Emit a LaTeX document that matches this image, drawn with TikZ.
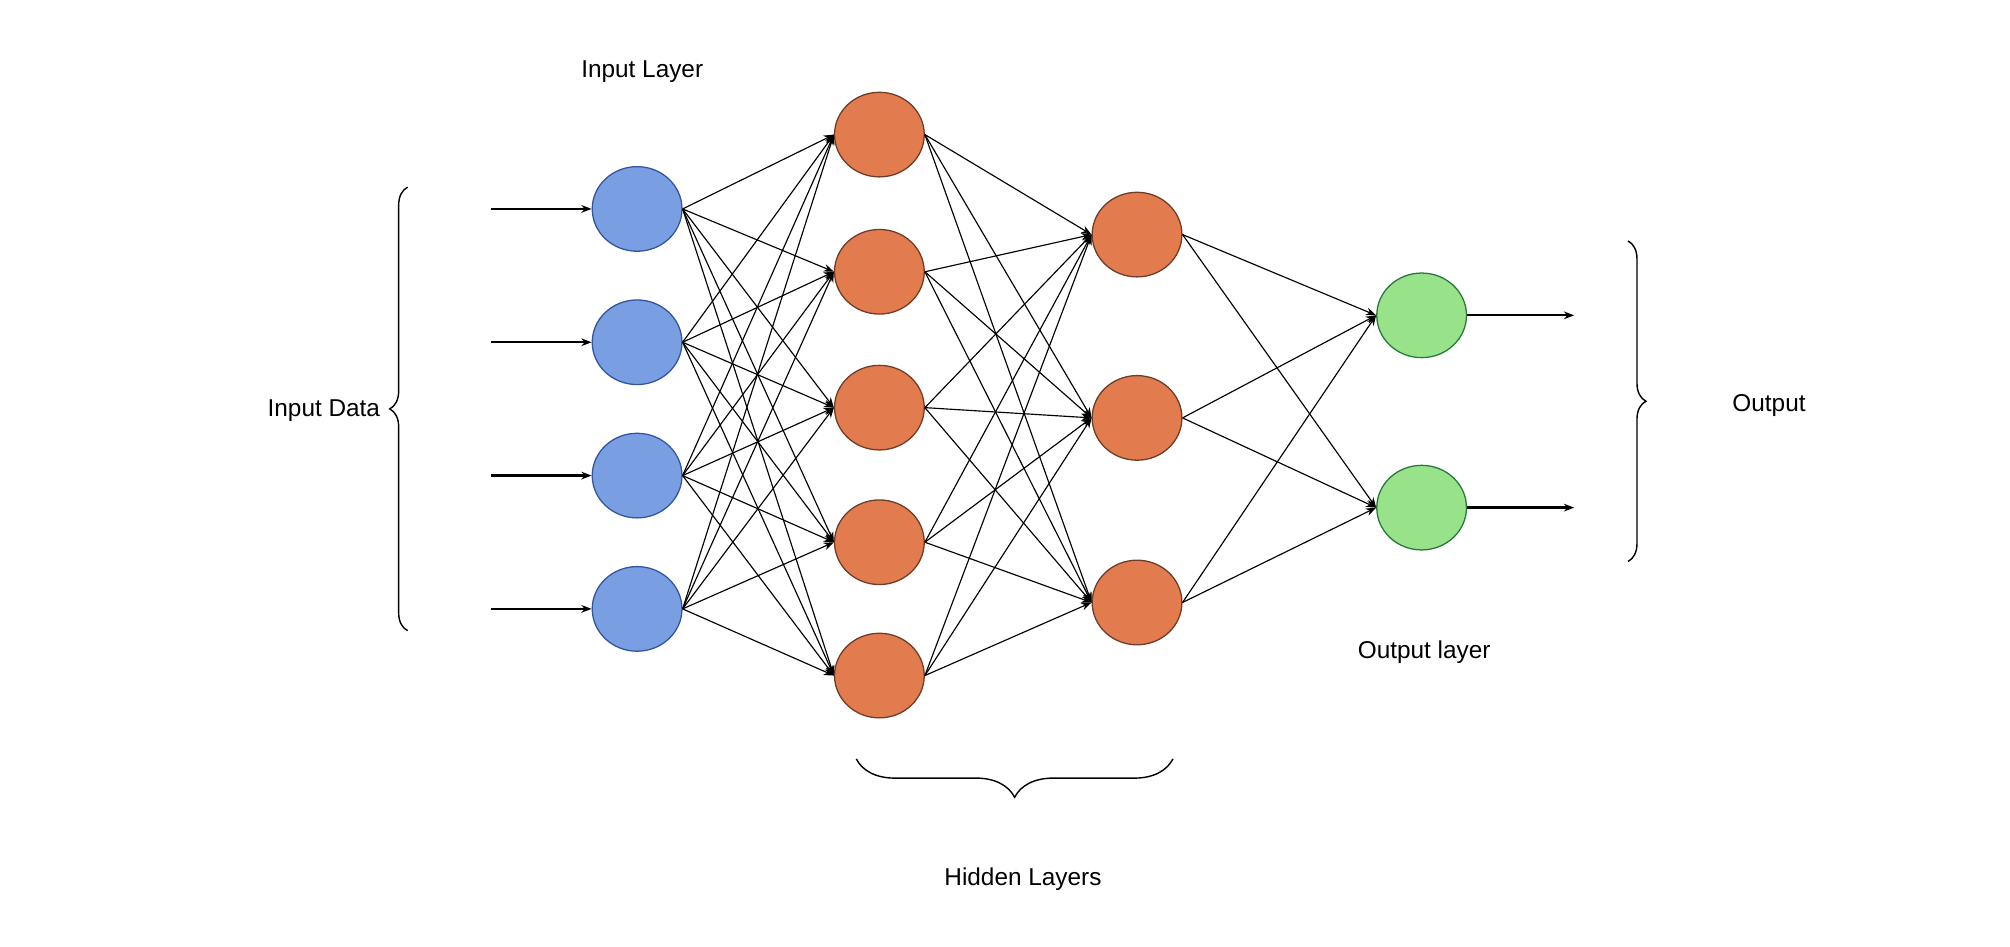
\documentclass[tikz,border=0pt]{standalone}
\usepackage{fontspec}
\setmainfont{Liberation Sans}
\usetikzlibrary{arrows.meta,decorations.pathreplacing,shapes.geometric}
\begin{document}
\begin{tikzpicture}[x=1pt,y=-1pt,
  neuron/.style={ellipse,minimum width=70pt,minimum height=66pt,inner sep=0pt,line width=1pt},
  inp/.style={neuron,fill={rgb,255:red,122;green,158;blue,226},draw={rgb,255:red,50;green,85;blue,160}},
  hid/.style={neuron,fill={rgb,255:red,226;green,123;blue,78},draw={rgb,255:red,110;green,60;blue,40}},
  outn/.style={neuron,fill={rgb,255:red,152;green,226;blue,138},draw={rgb,255:red,40;green,120;blue,60}},
  conn/.style={-{Stealth[length=8pt,width=6pt]},line width=0.9pt},
  io/.style={-{Stealth[length=8pt,width=6pt]},line width=1.8pt},
  brc/.style={decorate,decoration={brace,amplitude=14pt},line width=1.1pt},
  lbl/.style={font=\fontsize{19}{21}\selectfont}]
\useasboundingbox (0,0) rectangle (1568,738);
\foreach \i/\y in {1/163,2/267,3/371,4/475}{\node[inp] (i\i) at (497,\y) {};
  \coordinate (s\i) at (383,\y);}
\foreach \i/\y in {1/105,2/212,3/318,4/423,5/527}{\node[hid] (h\i) at (686,\y) {};}
\foreach \i/\y in {1/183,2/326,3/470}{\node[hid] (g\i) at (887,\y) {};}
\foreach \i/\y in {1/246,2/396}{\node[outn] (o\i) at (1109,\y) {};
  \coordinate (e\i) at (1228,\y);}
\foreach \i in {1,...,4}{\draw[io] (s\i) -- (i\i.west);
  \foreach \j in {1,...,5}{\draw[conn] (i\i.east) -- (h\j.west);}}
\foreach \i in {1,...,5}{\foreach \j in {1,...,3}{\draw[conn] (h\i.east) -- (g\j.west);}}
\foreach \i in {1,...,3}{\foreach \j in {1,2}{\draw[conn] (g\i.east) -- (o\j.west);}}
\foreach \j in {1,2}{\draw[io] (o\j.east) -- (e\j);}
\coordinate (lb1) at (318,492); \coordinate (lb2) at (318,146);
\draw[brc] (lb1) -- (lb2);
\coordinate (rb1) at (1270,188); \coordinate (rb2) at (1270,438);
\draw[brc] (rb1) -- (rb2);
\coordinate (bb1) at (915,592); \coordinate (bb2) at (668,592);
\draw[brc,decoration={brace,amplitude=30pt}] (bb1) -- (bb2);
\node[lbl,anchor=east] (tid) at (300,320) {Input Data};
\node[lbl] (tout) at (1380,316) {Output};
\node[lbl] (til) at (501,56) {Input Layer};
\node[lbl] (tol) at (1111,509) {Output layer};
\node[lbl] (thl) at (798,686) {Hidden Layers};
\end{tikzpicture}
\end{document}
